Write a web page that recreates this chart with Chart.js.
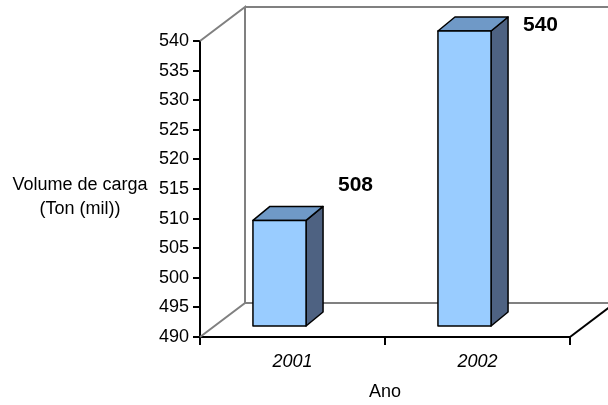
<!DOCTYPE html>
<html>
<head>
<meta charset="utf-8">
<script src="https://cdn.jsdelivr.net/npm/chart.js@4.4.0/dist/chart.umd.min.js"></script>
<style>
  html, body { margin: 0; padding: 0; background: #fff; }
  canvas { display: block; }
</style>
</head>
<body>
<canvas id="cargo-chart" width="608" height="405"></canvas>
<script>
const years = ['2001', '2002'];
const cargoVolume = [508, 540]; // Ton (mil)
const yMin = 490;
const yMax = 540;
const yStep = 5;
const yTitle = ['Volume de carga', '(Ton (mil))'];
const xTitle = 'Ano';

const FONT = '"Liberation Sans", Arial, sans-serif';

// oblique offsets used to fake the 3D box (pixels)
const wallDepth = { x: 45, y: -34 };
const barFront = { x: -13, y: -10 };
const barDepth = { x: 17, y: -14 };

const faceFront = '#99CCFF';
const faceTop = '#6F99C7';
const faceSide = '#4E6282';

function poly(ctx, pts, fill) {
  ctx.beginPath();
  ctx.moveTo(pts[0][0], pts[0][1]);
  for (let i = 1; i < pts.length; i++) ctx.lineTo(pts[i][0], pts[i][1]);
  ctx.closePath();
  ctx.fillStyle = fill;
  ctx.fill();
  ctx.stroke();
}

const box3d = {
  id: 'box3d',
  beforeDatasetsDraw(chart) {
    const { ctx, chartArea: a } = chart;
    const bx = a.left + wallDepth.x;
    ctx.save();
    ctx.lineWidth = 2;
    ctx.strokeStyle = '#808080';
    ctx.beginPath();
    // left wall and back wall edges
    ctx.moveTo(a.left, a.top);
    ctx.lineTo(bx, a.top + wallDepth.y);
    ctx.lineTo(bx, a.bottom + wallDepth.y);
    ctx.lineTo(a.left, a.bottom);
    ctx.moveTo(bx, a.top + wallDepth.y);
    ctx.lineTo(a.right + wallDepth.x, a.top + wallDepth.y);
    ctx.moveTo(bx, a.bottom + wallDepth.y);
    ctx.lineTo(a.right + wallDepth.x, a.bottom + wallDepth.y);
    ctx.stroke();
    // floor, right edge
    ctx.strokeStyle = '#000';
    ctx.beginPath();
    ctx.moveTo(a.right, a.bottom);
    ctx.lineTo(a.right + wallDepth.x, a.bottom + wallDepth.y);
    ctx.stroke();
    ctx.restore();
  },
  afterDatasetsDraw(chart) {
    const { ctx, chartArea: a } = chart;
    const meta = chart.getDatasetMeta(0);
    ctx.save();
    ctx.lineWidth = 1.5;
    ctx.strokeStyle = '#000';
    ctx.lineJoin = 'round';
    meta.data.forEach((bar, i) => {
      const p = bar.getProps(['x', 'y', 'base', 'width'], true);
      const l = p.x - p.width / 2 + barFront.x;
      const r = p.x + p.width / 2 + barFront.x;
      const t = p.y + barFront.y;
      const b = p.base + barFront.y;
      const dx = barDepth.x, dy = barDepth.y;
      poly(ctx, [[r, t], [r + dx, t + dy], [r + dx, b + dy], [r, b]], faceSide);
      poly(ctx, [[l, t], [l + dx, t + dy], [r + dx, t + dy], [r, t]], faceTop);
      poly(ctx, [[l, t], [r, t], [r, b], [l, b]], faceFront);

      // value label
      ctx.fillStyle = '#000';
      ctx.font = 'bold 21px ' + FONT;
      ctx.textAlign = 'center';
      ctx.textBaseline = 'middle';
      ctx.fillText(String(cargoVolume[i]), p.x + 63, a.top - 16 + 0.845 * (p.y - a.top));
    });
    ctx.restore();
  },
  afterDraw(chart) {
    const { ctx, chartArea: a } = chart;
    ctx.save();
    ctx.fillStyle = '#000';
    ctx.font = '18px ' + FONT;
    ctx.textAlign = 'center';
    ctx.textBaseline = 'alphabetic';
    ctx.fillText(yTitle[0], 80, 190);
    ctx.fillText(yTitle[1], 80, 214);
    ctx.fillText(xTitle, (a.left + a.right) / 2, 397);
    ctx.restore();
  }
};

new Chart(document.getElementById('cargo-chart'), {
  type: 'bar',
  data: {
    labels: years,
    datasets: [{
      data: cargoVolume,
      base: yMin,
      backgroundColor: 'rgba(0,0,0,0)',
      borderWidth: 0,
      barPercentage: 0.287,
      categoryPercentage: 1
    }]
  },
  options: {
    responsive: false,
    animation: false,
    devicePixelRatio: 1,
    layout: { padding: { top: 41, right: 38, left: 0, bottom: 0 } },
    plugins: {
      legend: { display: false },
      tooltip: { enabled: false }
    },
    scales: {
      x: {
        offset: true,
        grid: { offset: true, drawOnChartArea: false, tickLength: 8, color: '#000', lineWidth: 2 },
        border: { color: '#000', width: 2 },
        ticks: { color: '#000', font: { family: FONT, size: 18, style: 'italic' }, padding: 6 },
        afterFit(scale) { scale.height = 68; }
      },
      y: {
        min: yMin,
        max: yMax,
        ticks: { stepSize: yStep, color: '#000', font: { family: FONT, size: 18 }, padding: 4 },
        grid: { drawOnChartArea: false, tickLength: 7, color: '#000', lineWidth: 2 },
        border: { color: '#000', width: 2 },
        afterFit(scale) { scale.width = 200; }
      }
    }
  },
  plugins: [box3d]
});
</script>
</body>
</html>
